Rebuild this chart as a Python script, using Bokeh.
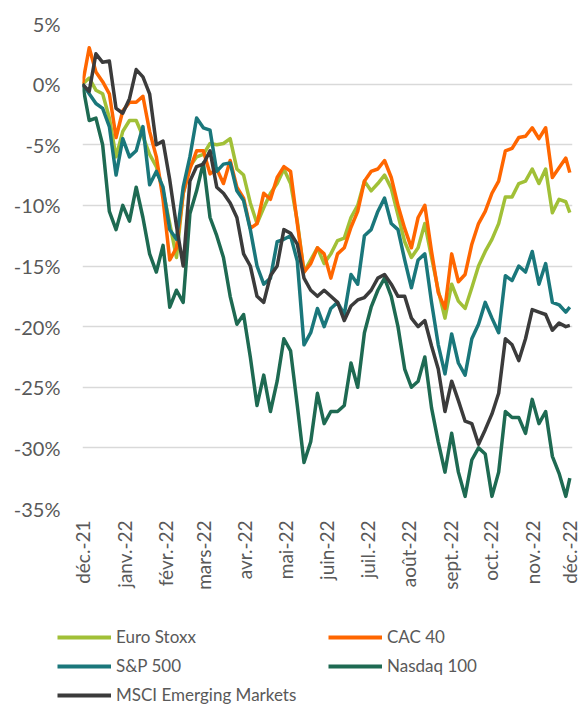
import math
import pandas as pd
from bokeh.plotting import figure
from bokeh.layouts import column, row
from bokeh.models import Range1d, FixedTicker, PrintfTickFormatter, Legend, LegendItem
from bokeh.embed import file_html
from bokeh.resources import INLINE

# ---------------- data ----------------
start = pd.Timestamp("2021-12-01")
dates = list(pd.date_range(start, periods=73, freq="5D")) + [pd.Timestamp("2022-11-29")]

month_starts = list(pd.date_range("2021-12-01", "2022-12-01", freq="MS"))
month_labels = ["déc.-21", "janv.-22", "févr.-22", "mars-22", "avr.-22", "mai-22",
                "juin-22", "juil.-22", "août-22", "sept.-22", "oct.-22", "nov.-22", "déc.-22"]

y_ticks = [-35, -30, -25, -20, -15, -10, -5, 0, 5]

euro_stoxx = [0, 0.5, -0.5, -0.8, -2.8, -6.0, -3.9, -3.0, -3.0, -4.3,
              -5.8, -6.8, -8.8, -11.5, -14.3, -9.0, -6.8, -6.0, -5.8, -4.9,
              -5.0, -4.9, -4.5, -7.0, -7.5, -9.8, -11.5, -10.2, -9.0, -8.2,
              -7.0, -8.2, -11.3, -15.5, -14.5, -13.5, -14.8, -14.0, -12.9, -12.7,
              -11.0, -10.0, -8.0, -8.8, -8.2, -7.5, -8.6, -10.8, -13.0, -14.3,
              -13.5, -11.5, -14.3, -17.0, -19.3, -16.5, -17.9, -18.5, -16.8, -15.0,
              -13.8, -12.8, -11.5, -9.3, -9.3, -8.2, -8.0, -7.0, -8.2, -7.0,
              -10.6, -9.5, -9.7, -10.6]

cac_40 = [0, 3.0, 1.0, 0.2, -0.8, -4.4, -2.2, -1.5, -1.5, -1.0,
          -3.9, -6.0, -9.5, -14.5, -13.5, -9.0, -7.0, -5.5, -5.5, -7.4,
          -7.0, -8.2, -6.3, -8.5, -9.4, -11.9, -11.5, -9.0, -9.5, -7.7,
          -6.8, -7.2, -11.5, -15.5, -14.8, -13.5, -14.0, -16.0, -14.0, -13.5,
          -11.8, -10.5, -8.0, -7.2, -7.0, -6.3, -7.7, -10.0, -11.9, -13.5,
          -11.0, -10.0, -13.8, -17.2, -18.5, -14.0, -16.3, -15.7, -13.2, -11.5,
          -10.5, -9.0, -8.0, -5.5, -5.3, -4.4, -4.3, -3.6, -4.5, -3.6,
          -7.7, -6.9, -6.1, -7.3]

sp_500 = [0, -0.8, -1.6, -2.0, -3.5, -7.5, -4.5, -6.0, -5.5, -3.5,
          -8.3, -7.2, -8.5, -12.0, -12.8, -8.5, -6.0, -2.8, -3.6, -3.8,
          -7.2, -6.6, -6.5, -8.8, -9.6, -12.0, -15.0, -16.5, -16.0, -13.0,
          -12.8, -12.5, -14.6, -21.5, -20.5, -18.5, -20.0, -18.5, -18.0, -19.0,
          -15.7, -16.5, -12.5, -12.0, -10.5, -9.4, -11.5, -12.0, -14.5, -16.8,
          -14.5, -14.0, -18.0, -21.5, -23.9, -20.6, -23.0, -24.0, -21.0, -19.8,
          -18.0, -19.3, -20.5, -15.8, -16.2, -15.0, -15.5, -13.8, -16.5, -14.8,
          -18.0, -18.2, -18.8, -18.4]

nasdaq_100 = [0, -3.0, -2.8, -5.0, -10.5, -12.0, -10.0, -11.3, -8.5, -11.0,
              -14.0, -15.5, -13.3, -18.4, -17.0, -18.0, -10.7, -8.8, -6.5, -11.0,
              -12.5, -14.3, -17.5, -19.8, -19.0, -22.5, -26.5, -24.0, -27.0, -24.5,
              -21.0, -22.0, -26.5, -31.2, -29.5, -25.5, -28.0, -27.0, -27.0, -26.5,
              -23.0, -25.0, -20.5, -18.4, -17.0, -16.0, -17.5, -20.0, -23.5, -25.0,
              -24.5, -22.5, -26.7, -29.5, -32.0, -28.8, -32.0, -34.0, -31.0, -30.0,
              -30.5, -34.0, -32.0, -27.0, -27.5, -27.5, -28.8, -26.0, -28.0, -27.0,
              -30.7, -32.1, -34.0, -32.5]

msci_em = [0, -0.6, 2.5, 1.8, 1.9, -2.0, -2.4, -1.2, 1.2, 0.6,
           -0.8, -5.0, -4.7, -7.9, -11.7, -15.0, -8.0, -6.8, -6.6, -5.5,
           -8.5, -9.0, -9.8, -11.0, -14.0, -15.0, -17.5, -18.0, -15.8, -15.0,
           -12.0, -12.3, -13.2, -16.0, -17.0, -17.5, -17.0, -17.5, -18.0, -19.5,
           -18.3, -17.8, -17.6, -17.0, -16.0, -15.7, -16.5, -17.5, -17.5, -19.3,
           -20.0, -19.5, -21.6, -23.5, -27.0, -24.5, -26.1, -27.8, -28.0, -29.7,
           -28.5, -27.2, -25.5, -21.0, -21.5, -22.8, -21.0, -18.6, -18.8, -19.0,
           -20.3, -19.7, -20.0, -19.9]

series_names = ["Euro Stoxx", "CAC 40", "S&P 500", "Nasdaq 100", "MSCI Emerging Markets"]
series_values = [euro_stoxx, cac_40, sp_500, nasdaq_100, msci_em]
series_colors = ["#A1C037", "#FF6600", "#1A777B", "#1E6A52", "#3B3B3B"]

# ---------------- chart ----------------
x_days = [(d - start).days for d in dates]
tick_days = [(d - start).days for d in month_starts]

FONT = "Lato"
TEXT_COLOR = "#595959"
LINE_W = 3.5

p = figure(width=580, height=610, output_backend="svg", toolbar_location=None,
           x_range=Range1d(tick_days[0], tick_days[-1]), y_range=Range1d(-35, 5),
           min_border_left=82, min_border_right=8, min_border_top=23, min_border_bottom=102)
p.outline_line_color = None
p.background_fill_color = "white"
p.border_fill_color = "white"

for name, vals, col in zip(series_names, series_values, series_colors):
    p.line(x_days, vals, line_color=col, line_width=LINE_W, line_join="round")

p.xaxis.ticker = FixedTicker(ticks=tick_days)
p.xaxis.major_label_overrides = {d: lab for d, lab in zip(tick_days, month_labels)}
p.xaxis.major_label_orientation = math.pi / 2
p.yaxis.ticker = FixedTicker(ticks=y_ticks)
p.yaxis.formatter = PrintfTickFormatter(format="%d%%")
for ax in (p.xaxis, p.yaxis):
    ax.axis_line_color = None
    ax.major_tick_line_color = None
    ax.minor_tick_line_color = None
    ax.major_tick_out = 0
    ax.major_tick_in = 0
    ax.major_label_text_font = FONT
    ax.major_label_text_color = TEXT_COLOR
p.xaxis.major_label_text_font_size = "19px"
p.yaxis.major_label_text_font_size = "20px"
p.xaxis.major_label_standoff = 12
p.yaxis.major_label_standoff = 22

p.xgrid.visible = False
p.ygrid.grid_line_color = "#D9D9D9"
p.ygrid.grid_line_width = 1.5

# ---------------- legend (separate strip below the chart) ----------------
lg = figure(width=580, height=95, output_backend="svg", toolbar_location=None,
            x_range=Range1d(0, 1), y_range=Range1d(0, 1),
            x_axis_location=None, y_axis_location=None, min_border=0)
lg.outline_line_color = None
lg.xgrid.visible = False
lg.ygrid.visible = False

items = []
for name, col in zip(series_names, series_colors):
    # proxy renderer (no visible data) carrying the series style for the legend
    r = lg.line(x=[float("nan")], y=[float("nan")], line_color=col, line_width=LINE_W + 0.5)
    items.append(LegendItem(label=name, renderers=[r]))

legend = Legend(items=items, location=(57, 0), orientation="horizontal", ncols=2,
                border_line_color=None, background_fill_alpha=0, padding=0, margin=0,
                spacing=8, glyph_width=54, glyph_height=20, label_height=20,
                label_standoff=5, label_width=204,
                label_text_font=FONT, label_text_font_size="17px", label_text_color=TEXT_COLOR)
lg.add_layout(legend)

open("out.html", "w").write(file_html(column(p, row(lg)), INLINE))
